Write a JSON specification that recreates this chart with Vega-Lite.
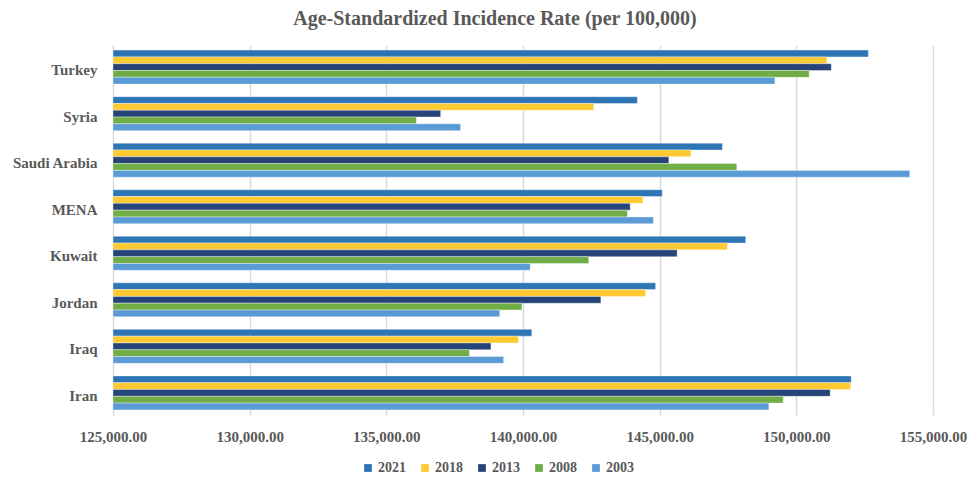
{
  "$schema": "https://vega.github.io/schema/vega-lite/v6.json",
  "width": 820,
  "height": 370,
  "autosize": {"type": "none"},
  "padding": {"left": 113, "top": 45, "right": 35, "bottom": 63},
  "background": "white",
  "title": {
    "text": "Age-Standardized Incidence Rate (per 100,000)",
    "font": "Liberation Serif",
    "fontSize": 20,
    "fontWeight": "bold",
    "color": "#595959",
    "anchor": "middle",
    "dx": -28,
    "offset": 16
  },
  "data": {
    "values": [
      {"country": "Turkey", "year": "2021", "value": 152633},
      {"country": "Turkey", "year": "2018", "value": 151117},
      {"country": "Turkey", "year": "2013", "value": 151279},
      {"country": "Turkey", "year": "2008", "value": 150470},
      {"country": "Turkey", "year": "2003", "value": 149217},
      {"country": "Syria", "year": "2021", "value": 144184},
      {"country": "Syria", "year": "2018", "value": 142587},
      {"country": "Syria", "year": "2013", "value": 136987},
      {"country": "Syria", "year": "2008", "value": 136098},
      {"country": "Syria", "year": "2003", "value": 137715},
      {"country": "Saudi Arabia", "year": "2021", "value": 147297},
      {"country": "Saudi Arabia", "year": "2018", "value": 146144},
      {"country": "Saudi Arabia", "year": "2013", "value": 145336},
      {"country": "Saudi Arabia", "year": "2008", "value": 147822},
      {"country": "Saudi Arabia", "year": "2003", "value": 154149},
      {"country": "MENA", "year": "2021", "value": 145093},
      {"country": "MENA", "year": "2018", "value": 144386},
      {"country": "MENA", "year": "2013", "value": 143921},
      {"country": "MENA", "year": "2008", "value": 143820},
      {"country": "MENA", "year": "2003", "value": 144770},
      {"country": "Kuwait", "year": "2021", "value": 148146},
      {"country": "Kuwait", "year": "2018", "value": 147478},
      {"country": "Kuwait", "year": "2013", "value": 145639},
      {"country": "Kuwait", "year": "2008", "value": 142405},
      {"country": "Kuwait", "year": "2003", "value": 140262},
      {"country": "Jordan", "year": "2021", "value": 144851},
      {"country": "Jordan", "year": "2018", "value": 144487},
      {"country": "Jordan", "year": "2013", "value": 142849},
      {"country": "Jordan", "year": "2008", "value": 139959},
      {"country": "Jordan", "year": "2003", "value": 139150},
      {"country": "Iraq", "year": "2021", "value": 140322},
      {"country": "Iraq", "year": "2018", "value": 139837},
      {"country": "Iraq", "year": "2013", "value": 138827},
      {"country": "Iraq", "year": "2008", "value": 138038},
      {"country": "Iraq", "year": "2003", "value": 139291},
      {"country": "Iran", "year": "2021", "value": 152007},
      {"country": "Iran", "year": "2018", "value": 151987},
      {"country": "Iran", "year": "2013", "value": 151238},
      {"country": "Iran", "year": "2008", "value": 149520},
      {"country": "Iran", "year": "2003", "value": 148994}
    ]
  },
  "mark": {"type": "bar", "stroke": "#ffffff", "strokeWidth": 0.6, "strokeOpacity": 0.6},
  "encoding": {
    "y": {
      "field": "country",
      "type": "nominal",
      "sort": ["Turkey", "Syria", "Saudi Arabia", "MENA", "Kuwait", "Jordan", "Iraq", "Iran"],
      "scale": {"paddingInner": 0.27, "paddingOuter": 0.11},
      "axis": {
        "title": null,
        "domain": false,
        "ticks": false,
        "labelPadding": 16,
        "labelOffset": 3,
        "labelFont": "Liberation Serif",
        "labelFontSize": 15,
        "labelFontWeight": "bold",
        "labelColor": "#595959"
      }
    },
    "yOffset": {
      "field": "year",
      "type": "nominal",
      "sort": ["2021", "2018", "2013", "2008", "2003"],
      "scale": {"paddingInner": 0, "paddingOuter": 0}
    },
    "x": {
      "field": "value",
      "type": "quantitative",
      "scale": {"domain": [125000, 155000], "zero": false, "nice": false},
      "axis": {
        "title": null,
        "format": ",.2f",
        "values": [125000, 130000, 135000, 140000, 145000, 150000, 155000],
        "domain": false,
        "ticks": false,
        "grid": true,
        "gridColor": "#d9d9d9",
        "gridWidth": 1.5,
        "labelFlush": false,
        "labelPadding": 14,
        "labelFont": "Liberation Serif",
        "labelFontSize": 15,
        "labelFontWeight": "bold",
        "labelColor": "#595959"
      }
    },
    "x2": {"datum": 125000},
    "color": {
      "field": "year",
      "type": "nominal",
      "sort": ["2021", "2018", "2013", "2008", "2003"],
      "scale": {
        "domain": ["2021", "2018", "2013", "2008", "2003"],
        "range": ["#2E75B6", "#FFC931", "#264478", "#70AD47", "#5B9BD5"]
      },
      "legend": {
        "title": null,
        "orient": "none",
        "direction": "horizontal",
        "legendX": 248,
        "legendY": 416,
        "symbolType": "square",
        "symbolSize": 60,
        "symbolStrokeWidth": 0,
        "columnPadding": 12,
        "labelOffset": 3,
        "labelFont": "Liberation Serif",
        "labelFontSize": 14,
        "labelFontWeight": "bold",
        "labelColor": "#595959"
      }
    }
  },
  "config": {"view": {"stroke": null}}
}
